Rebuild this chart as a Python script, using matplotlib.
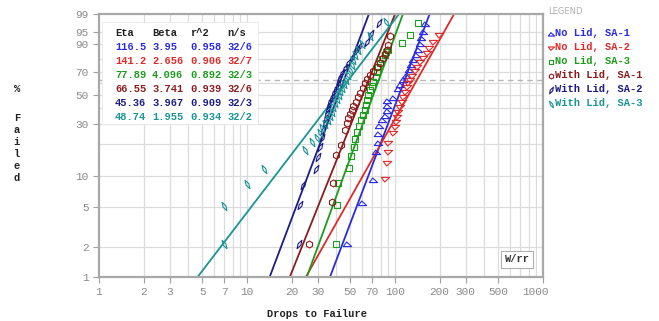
import numpy as np
import matplotlib
matplotlib.use("Agg")
import matplotlib.pyplot as plt
from matplotlib.markers import MarkerStyle
from matplotlib.path import Path
from matplotlib.transforms import Affine2D, ScaledTranslation
from matplotlib.patches import Rectangle

# ---------------- data ----------------
series_names = ["No Lid, SA-1", "No Lid, SA-2", "No Lid, SA-3",
                "With Lid, SA-1", "With Lid, SA-2", "With Lid, SA-3"]
eta = [116.5, 141.2, 77.89, 66.55, 45.36, 48.74]
beta = [3.95, 2.656, 4.096, 3.741, 3.967, 1.955]
r2 = [0.958, 0.906, 0.892, 0.939, 0.909, 0.934]
ns = ["32/6", "32/7", "32/3", "32/6", "32/3", "32/2"]

nl1_drops = [47.4, 59.8, 71.0, 74.4, 76.8, 76.8, 78.0, 81.7, 85.6, 88.3, 88.3, 88.3, 96.9,
             104.8, 108.1, 113.3, 118.7, 124.3, 128.3, 132.3, 138.7, 143.0, 147.5, 149.9, 154.6, 159.5]
nl1_pct = [2.15, 5.5, 9.2, 16.9, 20.4, 24.5, 28.8, 32.3, 34.8, 38.2, 41.7, 45.5, 47.8,
           55.2, 58.5, 62.8, 66.3, 71.3, 75.4, 79.3, 83.0, 86.3, 89.9, 92.8, 95.2, 97.4]

nl2_drops = [85.6, 88.3, 89.7, 89.7, 96.9, 100.0, 101.6, 103.2, 104.8, 108.1, 111.5, 113.3, 116.8,
             120.5, 122.4, 126.3, 130.3, 136.5, 140.8, 147.5, 154.6, 164.5, 169.7, 180.6, 198.3]
nl2_pct = [9.4, 13.3, 16.9, 20.4, 25.0, 28.2, 31.1, 34.2, 37.5, 41.0, 44.7, 48.6, 52.7,
           56.8, 60.3, 62.8, 66.3, 70.5, 73.8, 77.8, 80.8, 84.4, 87.6, 90.9, 94.1]

nl3_drops = [39.9, 40.6, 41.2, 48.9, 50.4, 52.8, 53.7, 55.4, 57.1, 58.9, 60.8, 62.7, 63.7, 64.7,
             65.7, 67.8, 69.9, 71.0, 74.4, 75.6, 76.8, 79.2, 81.7, 85.6, 87.0, 89.7, 111.5, 126.3, 143.0]
nl3_pct = [2.15, 5.2, 8.6, 12.0, 15.5, 18.8, 22.1, 25.5, 28.8, 32.3, 35.5, 38.9, 42.5, 46.3,
           50.2, 54.3, 57.7, 61.1, 65.4, 69.6, 73.8, 77.0, 80.1, 83.0, 85.0, 86.3, 90.4, 94.1, 97.6]

wl1_drops = [26.2, 37.5, 38.1, 39.9, 43.2, 45.9, 47.4, 48.1, 49.7, 51.2, 52.0, 54.5, 56.2,
             58.0, 60.8, 62.7, 64.7, 67.8, 71.0, 75.6, 79.2, 83.0, 85.6, 88.3, 89.7, 92.5]
wl1_pct = [2.15, 5.6, 8.6, 15.8, 19.6, 26.6, 30.5, 33.5, 36.1, 38.9, 41.7, 44.7, 48.6,
           51.9, 56.0, 60.3, 63.7, 67.1, 70.5, 73.8, 77.0, 80.8, 83.7, 86.3, 89.3, 93.7]

wl2_drops = [22.5, 22.8, 23.9, 29.3, 30.2, 31.1, 32.1, 32.6, 33.7, 34.2, 34.7, 35.3, 35.8, 36.4,
             37.5, 38.7, 39.9, 41.2, 41.8, 42.5, 43.8, 45.9, 48.1, 51.2, 55.4, 57.1, 64.7, 68.8, 78.0]
wl2_pct = [2.15, 5.2, 8.2, 11.7, 15.2, 18.8, 22.6, 26.6, 30.5, 33.5, 36.8, 39.6, 42.5, 45.5,
           48.6, 52.7, 56.0, 59.4, 62.8, 65.4, 68.8, 73.0, 77.0, 80.8, 86.3, 88.2, 90.9, 94.4, 97.6]

wl3_drops = [6.99, 6.99, 10.0, 13.0, 24.7, 27.5, 29.7, 31.1, 32.1, 33.7, 35.3, 36.4, 37.5, 38.1,
             39.3, 40.6, 41.8, 42.5, 43.8, 45.2, 46.7, 48.1, 49.7, 51.2, 52.0, 53.7, 56.2, 59.8, 67.8, 87.0]
wl3_pct = [2.15, 5.1, 8.4, 11.7, 17.6, 20.8, 22.6, 25.0, 27.6, 29.9, 32.3, 34.8, 37.5, 41.0,
           44.0, 47.0, 50.2, 53.5, 56.0, 59.4, 62.8, 67.1, 71.3, 75.4, 79.3, 83.0, 86.3, 89.9, 93.7, 97.8]

x_ticks = [1, 2, 3, 5, 7, 10, 20, 30, 50, 70, 100, 200, 300, 500, 1000]
x_grid = [2, 3, 4, 5, 6, 7, 8, 9, 10, 20, 30, 40, 50, 60, 70, 80, 90, 100,
          200, 300, 400, 500, 600, 700, 800, 900]
y_ticks = [1, 2, 5, 10, 30, 50, 70, 90, 95, 99]
y_grid = [2, 5, 10, 20, 30, 40, 50, 60, 70, 80, 90, 95]

# ---------------- styling ----------------
colors = ["#2a2ae0", "#e02a2a", "#1c9c1c", "#8c1c1c", "#1c1c86", "#1a9494"]

W, H = 659, 321
fig = plt.figure(figsize=(W / 100, H / 100), dpi=100)
L, R, T, B = 99, 543, 14, 277
ax = fig.add_axes([L / W, 1 - B / H, (R - L) / W, (B - T) / H])

def fwd(p):
    p = np.clip(np.asarray(p, dtype=float), 1e-9, 100 - 1e-9)
    return np.log(-np.log(1 - p / 100.0))

def inv(z):
    return 100.0 * (1 - np.exp(-np.exp(np.asarray(z, dtype=float))))

ax.set_xscale("log")
ax.set_yscale("function", functions=(fwd, inv))
ax.set_xlim(1, 1000)
ax.set_ylim(1, 99)

for g in x_grid:
    ax.axvline(g, color="#dcdcdc", lw=0.9, zorder=0)
for g in y_grid:
    ax.axhline(g, color="#dcdcdc", lw=0.9, zorder=0)
ax.axhline(63.2, color="#b8b8b8", lw=1.0, ls=(0, (4, 3)), zorder=0.5)

ax.set_xticks(x_ticks)
ax.set_xticklabels([str(t) for t in x_ticks])
ax.set_xticks([], minor=True)
ax.set_yticks(y_ticks)
ax.set_yticklabels([str(t) for t in y_ticks])
ax.set_yticks([], minor=True)
ax.tick_params(axis="both", colors="#a0a0a0", labelcolor="#8a8a8a", labelsize=8, length=4, width=0.8)
for lab in ax.get_xticklabels() + ax.get_yticklabels():
    lab.set_family("Liberation Mono")
last = ax.get_xticklabels()[-1]
last.set_transform(last.get_transform() + ScaledTranslation(-0.08, 0, fig.dpi_scale_trans))
for s in ax.spines.values():
    s.set_color("#a8a8a8")
    s.set_linewidth(1.6)

# markers
def shape(verts):
    return Path(verts + [verts[0]], [Path.MOVETO] + [Path.LINETO] * (len(verts) - 1) + [Path.CLOSEPOLY])

tri_up = shape([(-1.0, -0.5), (1.0, -0.5), (-0.2, 0.6)])
tri_dn = shape([(-1.0, 0.5), (1.0, 0.5), (-0.2, -0.6)])
leaf = shape([(0, 1.0), (0.32, 0), (0, -1.0), (-0.32, 0)])
m_nav = MarkerStyle(leaf, transform=Affine2D().rotate_deg(-30))
m_teal = MarkerStyle(leaf, transform=Affine2D().rotate_deg(30))
markers = [MarkerStyle(tri_up), MarkerStyle(tri_dn), MarkerStyle("s"), MarkerStyle("h"), m_nav, m_teal]
msizes = [6, 6, 5, 5, 7, 7]

data = [(nl1_drops, nl1_pct), (nl2_drops, nl2_pct), (nl3_drops, nl3_pct),
        (wl1_drops, wl1_pct), (wl2_drops, wl2_pct), (wl3_drops, wl3_pct)]

zs = np.linspace(fwd(0.5), fwd(99.9), 200)
for i, (d, p) in enumerate(data):
    c = colors[i]
    ax.plot(d, p, ls="none", marker=markers[i], ms=msizes[i], mfc="none", mec=c, mew=0.8, zorder=3)
    t_line = eta[i] * np.exp(zs / beta[i])
    ax.plot(t_line, inv(zs), color=c, lw=1.3, zorder=2)

# parameter table
ax.add_patch(Rectangle((102 / W, 1 - 124 / H), 156 / W, 102 / H, transform=fig.transFigure,
                       facecolor="white", edgecolor="#e8e8e8", lw=0.6, zorder=4))
cols_x = [115, 152, 190, 227]
hdr = ["Eta", "Beta", "r^2", "n/s"]
tfont = dict(family="Liberation Mono", fontsize=7.5, fontweight="bold", va="center", ha="left", zorder=5)
for cx, h in zip(cols_x, hdr):
    fig.text(cx / W, 1 - 33 / H, h, color="#222222", **tfont)
for i in range(6):
    y = 47 + 14 * i
    vals = [f"{eta[i]}", f"{beta[i]}", f"{r2[i]}", ns[i]]
    for cx, v in zip(cols_x, vals):
        fig.text(cx / W, 1 - y / H, v, color=colors[i], **tfont)

# W/rr box
fig.text(517 / W, 1 - 259.5 / H, "W/rr", family="Liberation Mono", fontsize=7.5, fontweight="bold",
         ha="center", va="center", color="#333333",
         bbox=dict(boxstyle="square,pad=0.35", fc="white", ec="#b0b0b0", lw=0.8))

# legend
fig.text(548 / W, 1 - 11 / H, "LEGEND", family="DejaVu Sans", fontsize=6, color="#b0b0b0",
         ha="left", va="center")
for i, name in enumerate(series_names):
    y = 33 + 14 * i
    lx = fig.add_axes([547 / W, 1 - (y + 5) / H, 8 / W, 10 / H])
    lx.set_axis_off()
    lx.set_xlim(0, 1); lx.set_ylim(0, 1)
    lx.plot([0.5], [0.45], marker=markers[i], ms=msizes[i] - 1.5, mfc="none", mec=colors[i], mew=0.8)
    fig.text(555 / W, 1 - y / H, name, family="Liberation Mono", fontsize=7.5, fontweight="bold",
             color=colors[i], ha="left", va="center")

# axis titles
fig.text(317 / W, 1 - 314 / H, "Drops to Failure", family="Liberation Mono", fontsize=7.5,
         fontweight="bold", ha="center", va="center", color="#222222")
ylab = [("%", 89), ("F", 118), ("a", 130), ("i", 142), ("l", 154), ("e", 166), ("d", 178)]
for ch, y in ylab:
    fig.text(17 / W, 1 - y / H, ch, family="Liberation Mono", fontsize=7.5, fontweight="bold",
             ha="center", va="center", color="#222222")

fig.savefig("out.png", dpi=100)
